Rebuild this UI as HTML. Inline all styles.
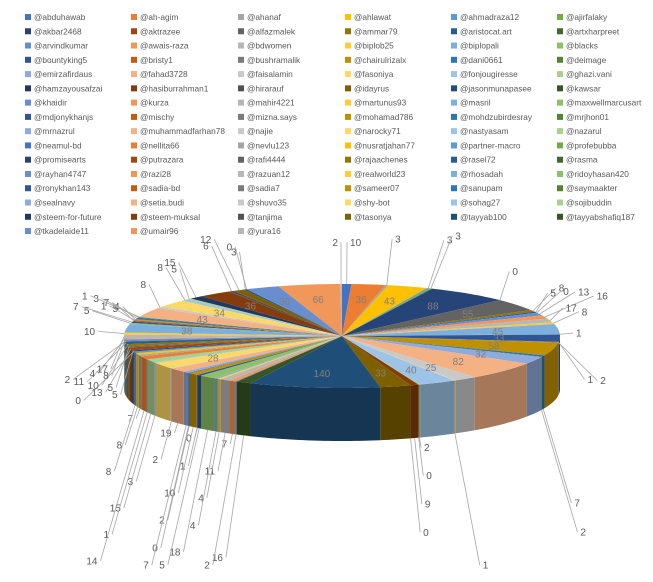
<!DOCTYPE html>
<html><head><meta charset="utf-8">
<style>
html,body{margin:0;padding:0;background:#fff;}
body{width:653px;height:577px;overflow:hidden;font-family:"Liberation Sans",sans-serif;}
svg text{font-family:"Liberation Sans",sans-serif;}
</style></head>
<body>
<svg id="chart" width="653" height="577" viewBox="0 0 653 577" xmlns="http://www.w3.org/2000/svg">
<g id="legend"></g>
<g id="sides"></g>
<g id="tops"></g>
<g id="labels"></g>
</svg>
<script>
const categories = ["@abduhawab","@ah-agim","@ahanaf","@ahlawat","@ahmadraza12","@ajirfalaky",
"@akbar2468","@aktrazee","@alfazmalek","@ammar79","@aristocat.art","@artxharpreet",
"@arvindkumar","@awais-raza","@bdwomen","@biplob25","@biplopali","@blacks",
"@bountyking5","@bristy1","@bushramalik","@chairulrizalx","@dani0661","@deimage",
"@emirzafirdaus","@fahad3728","@faisalamin","@fasoniya","@fonjougiresse","@ghazi.vani",
"@hamzayousafzai","@hasiburrahman1","@hirarauf","@idayrus","@jasonmunapasee","@kawsar",
"@khaidir","@kurza","@mahir4221","@martunus93","@masril","@maxwellmarcusart",
"@mdjonykhanjs","@mischy","@mizna.says","@mohamad786","@mohdzubirdesray","@mrjhon01",
"@mrnazrul","@muhammadfarhan78","@najie","@narocky71","@nastyasam","@nazarul",
"@neamul-bd","@nellita66","@nevlu123","@nusratjahan77","@partner-macro","@profebubba",
"@promisearts","@putrazara","@rafi4444","@rajaachenes","@rasel72","@rasma",
"@rayhan4747","@razi28","@razuan12","@realworld23","@rhosadah","@ridoyhasan420",
"@ronykhan143","@sadia-bd","@sadia7","@sameer07","@sanupam","@saymaakter",
"@sealnavy","@setia.budi","@shuvo35","@shy-bot","@sohag27","@sojibuddin",
"@steem-for-future","@steem-muksal","@tanjima","@tasonya","@tayyab100","@tayyabshafiq187",
"@tkadelaide11","@umair96","@yura16"];
const values = [10,36,3,43,3,3,88,0,55,8,5,0,13,16,17,8,45,1,33,1,2,58,7,2,32,82,25,1,40,2,0,9,0,33,140,
16,2,7,11,4,4,18,5,0,1,10,2,0,7,19,2,28,3,15,1,14,7,8,8,0,5,13,5,
10,11,2,8,4,17,10,38,5,7,5,1,4,7,3,1,43,8,34,8,5,15,36,6,12,3,0,36,66,2];

const pal = [
 ["#4472C4","#ED7D31","#A5A5A5","#FFC000","#5B9BD5","#70AD47"],
 ["#264478","#9E480E","#636363","#997300","#255E91","#43682B"],
 ["#698ED0","#F1975A","#B7B7B7","#FFCD33","#7CAFDD","#8CC168"],
 ["#2F5597","#C55A11","#7B7B7B","#BF9000","#2E75B6","#548235"],
 ["#8FAADC","#F4B183","#C9C9C9","#FFD966","#9DC3E6","#A9D18E"],
 ["#203864","#843C0C","#525252","#7F6000","#1F4E79","#375623"]];
const rowVar = [0,1,2,3,4,5,2,3,4,0,1,2,3,4,5,2];
function colorOf(i){return pal[rowVar[Math.floor(i/6)]][i%6];}
function darken(hex,f){const n=parseInt(hex.slice(1),16);const r=Math.round(((n>>16)&255)*f),g=Math.round(((n>>8)&255)*f),b=Math.round((n&255)*f);return "rgb("+r+","+g+","+b+")";}
const NS="http://www.w3.org/2000/svg";
function mk(tag,attrs,parent){const e=document.createElementNS(NS,tag);for(const k in attrs)e.setAttribute(k,attrs[k]);parent.appendChild(e);return e;}

const lg=document.getElementById('legend');
const colX=[25,131,238,345,451,557];
categories.forEach((c,i)=>{
  const x=colX[i%6], y=17+Math.floor(i/6)*14.27;
  const g=mk('g',{},lg);
  
  
  mk('rect',{x:x,y:y-3,width:6,height:6,fill:colorOf(i)},g);
  const t=mk('text',{x:x+9,y:y+3,'font-size':'8.3',fill:'#595959'},g);
  t.textContent=c;
});

const cx=342, cy=336, rx=218, ry=52, depth=53;
const total=values.reduce((a,b)=>a+b,0);
function px(a){return cx+rx*Math.sin(a);}
function py(a){return cy-ry*Math.cos(a);}
const sides=document.getElementById('sides'), tops=document.getElementById('tops'), labs=document.getElementById('labels');
let acc=0;
const slices=[];
values.forEach((v,i)=>{
  const a0=acc/total*2*Math.PI; acc+=v; const a1=acc/total*2*Math.PI;
  slices.push([a0,a1,v,i]);
});
slices.forEach(([a0,a1,v,i])=>{
  const s=Math.max(a0,Math.PI/2), e=Math.min(a1,Math.PI*1.5);
  if(e<=s) return;
  let d="M"+px(s)+","+py(s);
  const n=Math.max(2,Math.ceil((e-s)/0.02));
  for(let k=1;k<=n;k++){const a=s+(e-s)*k/n;d+=" L"+px(a)+","+py(a);}
  for(let k=n;k>=0;k--){const a=s+(e-s)*k/n;d+=" L"+px(a)+","+(py(a)+depth);}
  d+=" Z";
  const p=mk('path',{d:d,fill:darken(colorOf(i),0.68)},sides);
  
  
});
slices.forEach(([a0,a1,v,i])=>{
  if(a1<=a0) return;
  let d="M"+cx+","+cy+" L"+px(a0)+","+py(a0);
  const n=Math.max(2,Math.ceil((a1-a0)/0.02));
  for(let k=1;k<=n;k++){const a=a0+(a1-a0)*k/n;d+=" L"+px(a)+","+py(a);}
  d+=" Z";
  const p=mk('path',{d:d,fill:colorOf(i)},tops);
  
  
});
let smallIdx=0;
slices.forEach(([a0,a1,v,i])=>{
  const am=(a0+a1)/2;
  const isFront=Math.cos(am)<-0.3;
  if(v>=25){
    const t=mk('text',{x:cx+rx*0.72*Math.sin(am),y:cy-ry*0.72*Math.cos(am)+4,'font-size':'10','text-anchor':'middle',fill:'#7f7f7f'},labs);
    
    
    t.textContent=v;
  } else {
    const k=smallIdx%6; smallIdx++;
    let x0=px(am), y0=py(am), x1, y1;
    if(isFront){
      y0+=depth;
      x1=cx+rx*(1.02+k*0.04)*Math.sin(am);
      y1=y0+10+k*28;
      if(y1>565) y1=565;
    } else {
      const f=1.06+(k%4)*0.06;
      x1=cx+rx*f*Math.sin(am); y1=cy-ry*f*1.7*Math.cos(am)+(Math.cos(am)<0?depth*0.6:0);
    }
    const l=mk('line',{x1:x0,y1:y0,x2:x1,y2:y1,stroke:'#A6A6A6','stroke-width':'0.8'},labs);
    
    
    const right=Math.sin(am)>=0;
    const t=mk('text',{x:x1+(right?3:-3),y:y1+3.5,'font-size':'10','text-anchor':right?'start':'end',fill:'#595959'},labs);
    
    
    t.textContent=v;
  }
});
</script>
</body></html>
